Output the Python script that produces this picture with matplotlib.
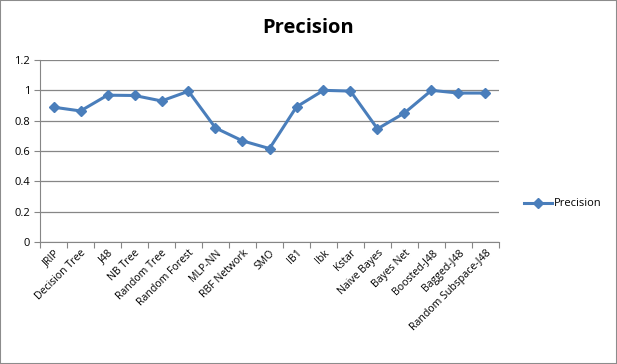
import numpy as np
import matplotlib
matplotlib.use('Agg')
import matplotlib.pyplot as plt
from matplotlib.patches import Rectangle

classifiers = ['JRIP', 'Decision Tree', 'J48', 'NB Tree', 'Random Tree', 'Random Forest',
               'MLP-NN', 'RBF Network', 'SMO', 'IB1', 'Ibk', 'Kstar', 'Naive Bayes',
               'Bayes Net', 'Boosted-J48', 'Bagged-J48', 'Random Subspace-J48']
precision = [0.889, 0.864, 0.968, 0.966, 0.930, 0.994, 0.752, 0.667, 0.616, 0.891,
             1.0, 0.995, 0.746, 0.851, 1.0, 0.982, 0.982]
yticks = [0, 0.2, 0.4, 0.6, 0.8, 1, 1.2]
ytick_labels = ['0', '0.2', '0.4', '0.6', '0.8', '1', '1.2']

plt.rcParams['font.family'] = ['Open Sans', 'DejaVu Sans']

W, H = 617, 364
fig = plt.figure(figsize=(W / 100, H / 100), dpi=100)
fig.patches.append(Rectangle((0, 0), 1, 1, transform=fig.transFigure,
                             fill=False, edgecolor='#8c8c8c', lw=1.5))

left, right, top, bottom = 40, 499, 60, 242
ax = fig.add_axes([left / W, 1 - bottom / H, (right - left) / W, (bottom - top) / H])

n = len(classifiers)
x = np.arange(n)
line, = ax.plot(x, precision, color='#4A7EBB', lw=2.2, marker='D', markersize=5,
                markerfacecolor='#4A7EBB', markeredgecolor='#4A7EBB', label='Precision')

ax.set_xlim(-0.5, n - 0.5)
ax.set_ylim(0, 1.2)
ax.set_yticks(yticks)
ax.set_yticklabels(ytick_labels, fontsize=8)
ax.yaxis.grid(True, color='#868686', lw=0.9)
ax.set_axisbelow(True)

ax.set_xticks(np.arange(-0.5, n, 1.0))
ax.set_xticklabels([])
ax.set_xticks(x, minor=True)
ax.set_xticklabels(classifiers, minor=True, rotation=45, ha='right', va='top',
                   rotation_mode='anchor', fontsize=7.6)
ax.tick_params(axis='x', which='minor', length=0, pad=4)
ax.tick_params(axis='x', which='major', length=4, color='#868686', direction='out')
ax.tick_params(axis='y', length=4, color='#868686', direction='out', pad=3)

for s in ['top', 'right']:
    ax.spines[s].set_visible(False)
for s in ['left', 'bottom']:
    ax.spines[s].set_color('#868686')

fig.text(308 / W, 1 - 28 / H, 'Precision', ha='center', va='center',
         fontsize=14.5, fontweight='bold')

fig.legend(handles=[line], loc='center left', bbox_to_anchor=(514 / W, 1 - 204 / H),
           frameon=False, fontsize=8, handlelength=2.5, handletextpad=0.2)

fig.savefig('out.png', dpi=100)
